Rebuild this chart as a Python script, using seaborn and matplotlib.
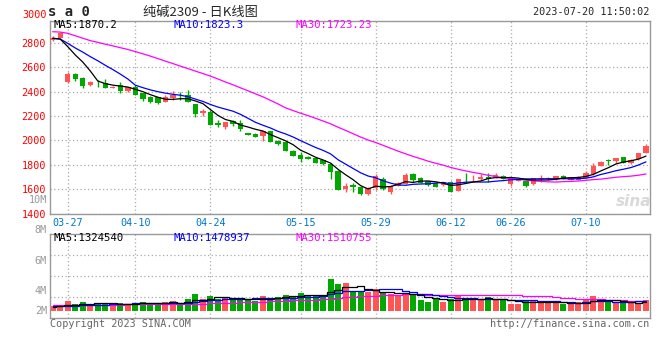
import numpy as np
import pandas as pd
import matplotlib
matplotlib.use("Agg")
import matplotlib.pyplot as plt
import seaborn as sns

dates = ["03-23", "03-24", "03-27", "03-28", "03-29", "03-30", "03-31",
         "04-03", "04-04", "04-06", "04-07", "04-10", "04-11", "04-12", "04-13", "04-14",
         "04-17", "04-18", "04-19", "04-20", "04-21", "04-24", "04-25", "04-26", "04-27", "04-28",
         "05-04", "05-05", "05-08", "05-09", "05-10", "05-11", "05-12", "05-15", "05-16", "05-17",
         "05-18", "05-19", "05-22", "05-23", "05-24", "05-25", "05-26", "05-29", "05-30", "05-31",
         "06-01", "06-02", "06-05", "06-06", "06-07", "06-08", "06-09", "06-12", "06-13", "06-14",
         "06-15", "06-16", "06-19", "06-20", "06-21", "06-26", "06-27", "06-28", "06-29", "06-30",
         "07-03", "07-04", "07-05", "07-06", "07-07", "07-10", "07-11", "07-12", "07-13", "07-14",
         "07-17", "07-18", "07-19", "07-20"]

open_ = [2822, 2842, 2478, 2544, 2511, 2451, 2470, 2473, 2429, 2451,
         2404, 2440, 2385, 2358, 2353, 2317, 2350, 2365, 2369, 2298,
         2222, 2232, 2145, 2107, 2156, 2145, 2058, 2052, 2036, 2077,
         1998, 1987, 1916, 1883, 1867, 1858, 1837, 1807, 1752, 1602,
         1637, 1621, 1561, 1607, 1681, 1580, 1629, 1645, 1725, 1695,
         1665, 1648, 1634, 1662, 1588, 1690, 1680, 1681, 1697, 1697,
         1711, 1645, 1670, 1670, 1640, 1686, 1684, 1681, 1708, 1675,
         1675, 1695, 1722, 1793, 1840, 1834, 1861, 1810, 1845, 1899]
high = [2852, 2890, 2557, 2548, 2516, 2484, 2495, 2503, 2442, 2481,
        2440, 2454, 2390, 2362, 2356, 2369, 2402, 2399, 2413, 2300,
        2257, 2249, 2166, 2150, 2166, 2166, 2062, 2056, 2080, 2080,
        2003, 1990, 1920, 1908, 1870, 1862, 1840, 1812, 1756, 1654,
        1648, 1626, 1621, 1722, 1697, 1632, 1660, 1730, 1735, 1700,
        1670, 1652, 1662, 1666, 1684, 1730, 1714, 1722, 1730, 1730,
        1716, 1692, 1686, 1675, 1692, 1716, 1703, 1708, 1712, 1700,
        1706, 1745, 1812, 1830, 1845, 1858, 1866, 1845, 1900, 1972]
low = [2815, 2838, 2473, 2489, 2429, 2448, 2440, 2430, 2427, 2385,
       2400, 2370, 2322, 2308, 2300, 2312, 2331, 2331, 2314, 2194,
       2202, 2124, 2112, 2093, 2118, 2080, 2040, 2026, 1998, 1985,
       1965, 1912, 1868, 1826, 1846, 1814, 1800, 1681, 1590, 1580,
       1580, 1555, 1555, 1593, 1596, 1558, 1622, 1640, 1655, 1650,
       1628, 1615, 1628, 1578, 1585, 1662, 1667, 1678, 1662, 1694,
       1680, 1629, 1665, 1620, 1636, 1662, 1675, 1678, 1680, 1672,
       1672, 1692, 1718, 1790, 1798, 1812, 1810, 1806, 1840, 1895]
close = [2838, 2880, 2541, 2500, 2448, 2475, 2467, 2432, 2440, 2407,
         2437, 2374, 2336, 2317, 2303, 2353, 2369, 2361, 2317, 2213,
         2243, 2126, 2123, 2148, 2134, 2096, 2044, 2030, 2077, 1987,
         1970, 1916, 1872, 1850, 1850, 1818, 1804, 1744, 1594, 1629,
         1615, 1561, 1607, 1708, 1599, 1629, 1654, 1716, 1675, 1654,
         1634, 1621, 1659, 1580, 1681, 1689, 1681, 1703, 1681, 1719,
         1684, 1689, 1678, 1629, 1689, 1689, 1689, 1705, 1684, 1697,
         1703, 1730, 1790, 1826, 1830, 1853, 1812, 1840, 1894, 1954]
volume = [754000, 754000, 1508000, 1055000, 1357000, 955000, 1206000, 1206000, 955000, 1206000,
          955000, 1206000, 1357000, 1206000, 1206000, 1357000, 1508000, 955000, 1809000, 2563000,
          1809000, 2261000, 1809000, 2111000, 1809000, 1658000, 1658000, 1508000, 2261000, 1960000,
          2111000, 2412000, 2261000, 2714000, 2261000, 2261000, 2412000, 4824000, 4121000, 4221000,
          2814000, 2814000, 2915000, 3317000, 2814000, 2563000, 2261000, 2663000, 2563000, 1658000,
          1357000, 1809000, 1357000, 1809000, 2261000, 1960000, 1658000, 1658000, 2111000, 1658000,
          1658000, 1055000, 1055000, 1658000, 1508000, 1508000, 1206000, 1206000, 1055000, 1055000,
          1357000, 1658000, 2261000, 1658000, 1357000, 1206000, 1357000, 1206000, 1206000, 1658000]

# moving averages whose window reaches back before 03-23
ma5_head = [2836, 2830, 2768, 2700]
ma10_head = [2836, 2830, 2795, 2757, 2723, 2686, 2652, 2615, 2580]
ma30_head = [2890, 2887, 2877, 2857, 2837, 2817, 2803, 2788, 2774, 2759,
             2745, 2727, 2709, 2690, 2670, 2649, 2629, 2608, 2588, 2567,
             2547, 2526, 2503, 2478, 2455, 2430, 2406, 2381, 2356]
vol_ma5_head = [650000, 700000, 860000, 930000]
vol_ma10_head = [750000, 750000, 780000, 800000, 850000, 880000, 920000, 960000, 1000000]
vol_ma30_head = [900000, 900000, 900000, 910000, 920000, 930000, 940000, 950000, 960000, 970000,
                 980000, 990000, 1000000, 1010000, 1020000, 1030000, 1040000, 1060000, 1080000, 1100000,
                 1120000, 1150000, 1180000, 1210000, 1250000, 1290000, 1330000, 1370000, 1410000]

# legend values as printed on the chart
ma_labels = ["MA5:1870.2", "MA10:1823.3", "MA30:1723.23"]
vol_ma_labels = ["MA5:1324540", "MA10:1478937", "MA30:1510755"]

tick_dates = ["03-27", "04-10", "04-24", "05-15", "05-29", "06-12", "06-26", "07-10"]
price_ticks = [1400, 1600, 1800, 2000, 2200, 2400, 2600, 2800]

# ---------- derived ----------
df = pd.DataFrame({"date": dates, "open": open_, "high": high, "low": low,
                   "close": close, "volume": volume})
df["i"] = np.arange(len(df))


def with_head(s, n, head):
    m = s.rolling(n).mean()
    m.iloc[:len(head)] = head
    return m


df["ma5"] = with_head(df["close"], 5, ma5_head)
df["ma10"] = with_head(df["close"], 10, ma10_head)
df["ma30"] = with_head(df["close"], 30, ma30_head)
df["vma5"] = with_head(df["volume"], 5, vol_ma5_head)
df["vma10"] = with_head(df["volume"], 10, vol_ma10_head)
df["vma30"] = with_head(df["volume"], 30, vol_ma30_head)

RED = "#ff5555"
GREEN = "#00a800"
up = df["close"] >= df["open"]
colors = np.where(up, RED, GREEN)

# ---------- figure ----------
sns.set_style("white")
plt.rcParams["font.family"] = ["DejaVu Sans Mono", "Noto Sans CJK SC"]
W, H = 660, 360
fig = plt.figure(figsize=(6.6, 3.6), dpi=100)


def box(l, t, r, b):
    return [l / W, 1 - b / H, (r - l) / W, (b - t) / H]


ax = fig.add_axes(box(50, 20.5, 649.5, 213.5))
axv = fig.add_axes(box(50, 234, 649.5, 318))

tick_pos = [dates.index(d) for d in tick_dates]
grid_kw = dict(color="#aaaaaa", linestyle=(0, (1, 2)), linewidth=0.9)

for a in (ax, axv):
    a.set_xlim(-0.36, 79.47)
    a.set_xticks(tick_pos)
    a.grid(True, **grid_kw)
    a.set_axisbelow(True)
    for sp in a.spines.values():
        sp.set_color("#999999")
        sp.set_linewidth(1.0)
    a.tick_params(length=0)

# price panel
ax.set_ylim(1400, 2982)
ax.set_yticks(price_ticks)
ax.tick_params(axis="y", labelcolor="#ff0000", labelsize=7.3, pad=3)
ax.set_xticklabels(tick_dates)
ax.tick_params(axis="x", labelcolor="#0077cc", labelsize=7.3, pad=3)

ax.vlines(df["i"], df["low"], df["high"], colors=colors, linewidth=1.0, zorder=2)
body_lo = np.minimum(df["open"], df["close"])
body_h = np.maximum((df["close"] - df["open"]).abs(), 6)
ax.bar(df["i"], body_h, bottom=body_lo, width=0.72, color=colors, linewidth=0, zorder=3)

sns.lineplot(data=df, x="i", y="ma30", color="#ff00ff", linewidth=0.9, ax=ax, zorder=4)
sns.lineplot(data=df, x="i", y="ma10", color="#0000ff", linewidth=0.9, ax=ax, zorder=4)
sns.lineplot(data=df, x="i", y="ma5", color="#000000", linewidth=0.9, ax=ax, zorder=5)
ax.set_xlabel("")
ax.set_ylabel("")

# volume panel
axv.set_ylim(-1.056e6, 11.61e6)
lo, hi = axv.get_ylim()
axv.set_yticks(np.linspace(lo, hi, 5)[1:-1])
axv.set_yticklabels([])
axv.set_xticklabels([])
axv.bar(df["i"], df["volume"], width=0.8, color=colors, linewidth=0, zorder=2)
sns.lineplot(data=df, x="i", y="vma30", color="#ff00ff", linewidth=0.9, ax=axv,
             drawstyle="steps-mid", zorder=3)
sns.lineplot(data=df, x="i", y="vma10", color="#0000ff", linewidth=0.9, ax=axv,
             drawstyle="steps-mid", zorder=4)
sns.lineplot(data=df, x="i", y="vma5", color="#000000", linewidth=0.9, ax=axv,
             drawstyle="steps-mid", zorder=5)
axv.set_xlabel("")
axv.set_ylabel("")


# ---------- texts ----------
def ftext(x, y, s, **kw):
    fig.text(x / W, 1 - y / H, s, **kw)


ftext(48, 12, "s a 0", fontsize=10, fontweight="bold", ha="left", va="center")
ftext(200, 12, "纯碱2309 - 日K线图", fontsize=9.5, ha="center", va="center",
      family=["Noto Sans CJK SC", "DejaVu Sans"])
ftext(649, 12, "2023-07-20 11:50:02", fontsize=7.3, ha="right", va="center")
ftext(47, 15, "3000", fontsize=7.3, color="#ff0000", ha="right", va="center")

ma_colors = ["#000000", "#0000ff", "#ff00ff"]
for lab, c, x in zip(ma_labels, ma_colors, [54, 174, 295]):
    ftext(x, 24.5, lab, fontsize=7.7, color=c, va="center")
for lab, c, x in zip(vol_ma_labels, ma_colors, [54, 174, 295]):
    ftext(x, 238, lab, fontsize=7.7, color=c, va="center")

for lab, y in [("10M", 200), ("8M", 230), ("6M", 261), ("4M", 291), ("2M", 311)]:
    ftext(47, y, lab, fontsize=7.3, color="#999999", ha="right", va="center")

ftext(50, 324, "Copyright 2023 SINA.COM", fontsize=7.3, color="#666666", va="center")
ftext(649, 324, "http://finance.sina.com.cn", fontsize=7.3, color="#666666", ha="right", va="center")
ftext(634, 201, "sina", fontsize=11, fontweight="bold", style="italic", color="#d9d9d9",
      ha="center", va="center", family="DejaVu Sans")

fig.savefig("out.png", dpi=100)
